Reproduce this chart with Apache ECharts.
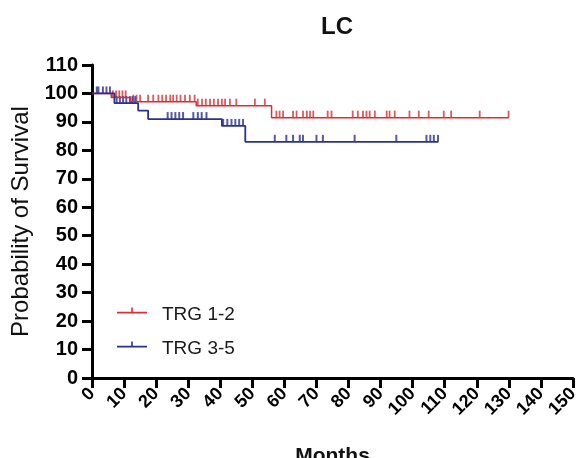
<!DOCTYPE html>
<html>
<head>
<meta charset="UTF-8" />
<title>LC</title>
<script src="https://cdn.jsdelivr.net/npm/echarts@6/dist/echarts.min.js"></script>
<style type="text/css">
html,body{ margin:0; padding:0; background:#fff;}
#main{ width:578px; height:458px;}
</style>
</head>
<body>
<div id="main"></div>
<script type="text/javascript">
// Kaplan-Meier steps (months / survival %)
var redTimes = [0, 6, 12, 32.5, 56, 130];
var redSurv  = [100, 98.6, 97.1, 95.7, 91.5, 91.5];
var blueTimes = [0, 7, 14.4, 17.5, 40.5, 47.8, 108];
var blueSurv  = [100, 96.6, 94.0, 91.0, 88.6, 83.0, 83.0];

// censored observations (months)
var redCensor = [6.5, 7.5, 8.5, 9.5, 10.5, 12.9, 13.9, 15, 17.5, 19.1, 20.7, 21.9, 23.1, 24.4, 25.3,
  26.4, 27.6, 29, 30.5, 32, 33, 34.3, 35.5, 36.8, 38, 39.3, 40.5, 41.5, 43, 45, 50.8, 53.9,
  57.5, 58.5, 59.6, 62.7, 63.8, 65.8, 67, 68, 69, 73.5, 74.7, 81.3, 82.9, 84.5, 85.6, 86.6, 88.2,
  91.9, 92.8, 94.4, 99, 101.9, 105, 109.7, 112, 120.9, 129.9];
var blueCensor = [1.5, 2, 3.4, 4.5, 5.6, 7.7, 8.7, 9.7, 10.7, 11.8, 12.6, 13.5, 23.6, 24.8, 26, 27.2, 28.4,
  31.6, 33, 34.2, 35.7, 40.9, 42.2, 43.5, 44.7, 45.9, 47.1, 57, 60.6, 62.7, 64.8, 65.8, 70, 72,
  81.9, 94.9, 104.3, 105.5, 106.6, 107.9];

var xTicks = {min: 0, max: 150, interval: 10};
var yTicks = {min: 0, max: 110, interval: 10};

var red = '#db2f33';
var blue = '#2b318e';
var font = 'Liberation Sans, Arial, sans-serif';

function pairs(t, s){
  var out = [];
  for (var i = 0; i < t.length; i++) out.push([t[i], s[i]]);
  return out;
}
function survAt(t, s, x){
  var v = s[0];
  for (var i = 0; i < t.length; i++) { if (t[i] <= x) v = s[i]; }
  return v;
}
function censorPts(c, t, s){
  return c.map(function(x){ return [x, survAt(t, s, x)]; });
}

// line with a small censor tick; the tiny dot at the bottom only widens the box
var icon = 'path://M0,8.3H30V10H0Z M14.2,4H15.8V8.3H14.2Z M15,18.99H15.01V19H15Z';

var myChart = echarts.init(document.getElementById('main'));
myChart.setOption({
  animation: false,
  title: {
    text: 'LC',
    left: 316,
    top: 10,
    textStyle: {fontSize: 24, fontWeight: 'bold', color: '#111', fontFamily: font}
  },
  legend: {
    orient: 'vertical',
    left: 112,
    top: 299,
    itemWidth: 30,
    itemHeight: 15,
    itemGap: 12,
    data: [{name: 'TRG 1-2', icon: icon}, {name: 'TRG 3-5', icon: icon}],
    textStyle: {fontSize: 19, color: '#1a1a1a', fontFamily: font, padding: [0, 0, 0, 10], lineHeight: 22}
  },
  grid: {left: 92, right: 5, top: 65, bottom: 80, containLabel: false, outerBoundsMode: 'none'},
  xAxis: {
    type: 'value',
    min: xTicks.min, max: xTicks.max, interval: xTicks.interval,
    name: 'Months',
    nameLocation: 'middle',
    nameGap: 68,
    nameTextStyle: {fontSize: 21, fontWeight: 'bold', color: '#111', fontFamily: font},
    axisLine: {lineStyle: {color: '#000', width: 3}},
    axisTick: {length: 10, lineStyle: {width: 3, color: '#000'}},
    axisLabel: {rotate: 45, margin: 13, fontSize: 18, fontWeight: 'bold', color: '#000', fontFamily: font},
    splitLine: {show: false}
  },
  yAxis: {
    type: 'value',
    min: yTicks.min, max: yTicks.max, interval: yTicks.interval,
    name: 'Probability of Survival',
    nameLocation: 'middle',
    nameGap: 58,
    nameTextStyle: {fontSize: 24, color: '#111', fontFamily: font},
    axisLine: {show: true, lineStyle: {color: '#000', width: 3}},
    axisTick: {show: true, length: 10, lineStyle: {width: 3, color: '#000'}},
    axisLabel: {margin: 14, fontSize: 20, fontWeight: 'bold', color: '#000', fontFamily: font},
    splitLine: {show: false}
  },
  series: [
    {
      name: 'TRG 1-2', type: 'line', step: 'end', symbol: 'none',
      data: pairs(redTimes, redSurv),
      lineStyle: {color: red, width: 1.5}, itemStyle: {color: red}
    },
    {
      name: 'TRG 3-5', type: 'line', step: 'end', symbol: 'none',
      data: pairs(blueTimes, blueSurv),
      lineStyle: {color: blue, width: 1.8}, itemStyle: {color: blue}
    },
    {
      name: 'TRG 1-2 censored', type: 'scatter', symbol: 'rect',
      symbolSize: [1.8, 7], symbolOffset: [0, -3.5],
      data: censorPts(redCensor, redTimes, redSurv),
      itemStyle: {color: red}
    },
    {
      name: 'TRG 3-5 censored', type: 'scatter', symbol: 'rect',
      symbolSize: [2, 7], symbolOffset: [0, -3.5],
      data: censorPts(blueCensor, blueTimes, blueSurv),
      itemStyle: {color: blue}
    }
  ]
});
</script>
</body>
</html>
